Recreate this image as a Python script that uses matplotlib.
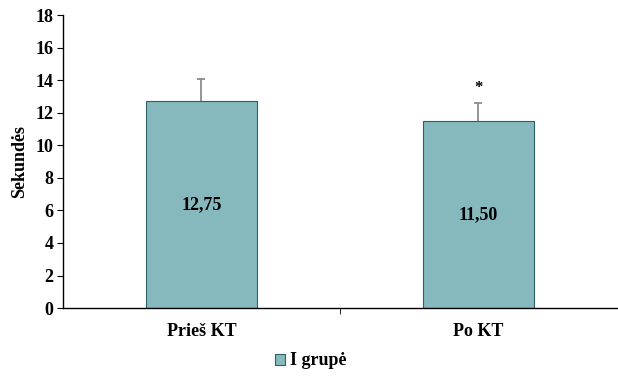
import numpy as np
import matplotlib
matplotlib.use("Agg")
import matplotlib.pyplot as plt

plt.rcParams['font.family'] = ['Liberation Serif', 'DejaVu Serif']
plt.rcParams['font.weight'] = 'bold'

categories = ['Prieš KT', 'Po KT']
values = [12.75, 11.50]
errors = [1.3, 1.1]
value_labels = ['12,75', '11,50']
significant = [False, True]
series_name = 'I grupė'
y_ticks = [0, 2, 4, 6, 8, 10, 12, 14, 16, 18]

fs = 13

fig = plt.figure(figsize=(6.18, 3.78), dpi=100)
ax = fig.add_axes([0.102, 0.185, 0.896, 0.775])

x = np.arange(len(categories))
bars = ax.bar(x, values, width=0.4, color='#86B9BE', edgecolor='#2F5F66',
              linewidth=0.8, label=series_name, zorder=2)
# upper error only: hide the lower cap
_, caps, _ = ax.errorbar(x, values, yerr=[np.zeros(len(errors)), errors],
                         fmt='none', ecolor='#8C8C8C', elinewidth=1.3,
                         capsize=3, capthick=1.3, zorder=1)
caps[0].set_visible(False)

for xi, v, lab in zip(x, values, value_labels):
    ax.text(xi, v / 2, lab, ha='center', va='center', fontsize=fs,
            fontweight='bold', zorder=3)

for xi, v, e, s in zip(x, values, errors, significant):
    if s:
        ax.text(xi, v + e + 0.45, '*', ha='center', va='bottom', fontsize=12,
                fontweight='bold')

ax.set_xlim(-0.5, len(categories) - 0.5)
ax.set_ylim(0, 18)
ax.set_yticks(y_ticks)
ax.set_yticklabels([str(t) for t in y_ticks], fontsize=fs, fontweight='bold')
ax.set_xticks(x)
ax.set_xticklabels(categories, fontsize=fs, fontweight='bold')
ax.tick_params(axis='x', length=0, pad=11)
ax.set_xticks(np.arange(len(categories) - 1) + 0.5, minor=True)
ax.tick_params(axis='x', which='minor', length=4, direction='out')
ax.tick_params(axis='y', length=4, direction='out', pad=3)
ax.set_ylabel('Sekundės', fontsize=fs, fontweight='bold', labelpad=5)

for side in ['top', 'right']:
    ax.spines[side].set_visible(False)
ax.spines['left'].set_linewidth(1.0)
ax.spines['bottom'].set_linewidth(1.0)

fig.legend(handles=[bars], labels=[series_name], loc='center',
           bbox_to_anchor=(0.503, 0.045), frameon=False, fontsize=fs,
           handlelength=0.55, handleheight=0.55, handletextpad=0.3)

fig.savefig('out.png', dpi=100)
